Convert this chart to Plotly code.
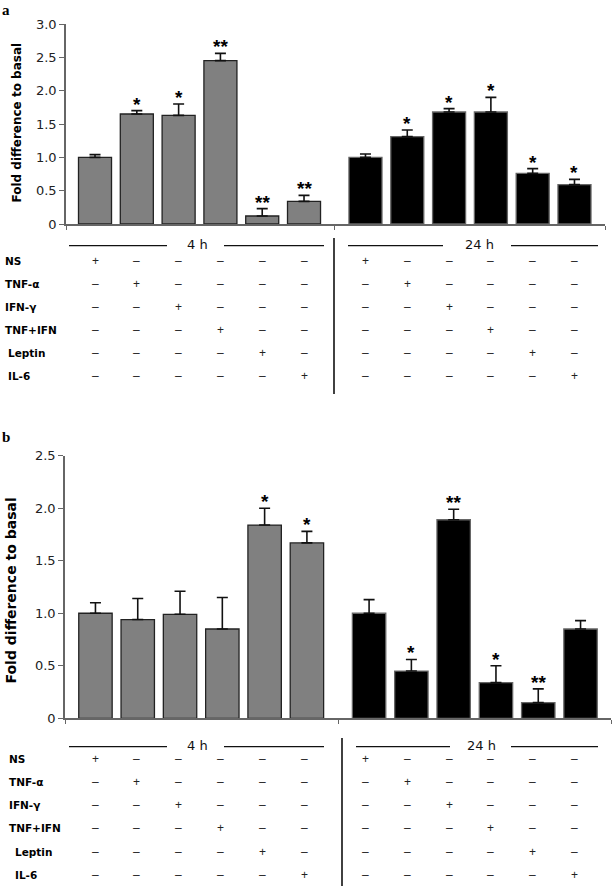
import plotly.graph_objects as go

W, H = 612, 886

# ---------------- data ----------------
row_labels = ["NS", "TNF-α", "IFN-γ", "TNF+IFN", "Leptin", "IL-6"]
time_groups = ["4 h", "24 h"]

# Panel a
a_4h = [1.00, 1.65, 1.63, 2.45, 0.12, 0.34]
a_4h_se = [0.04, 0.05, 0.17, 0.11, 0.11, 0.09]
a_4h_sig = ["", "*", "*", "**", "**", "**"]
a_24h = [1.00, 1.31, 1.68, 1.68, 0.76, 0.59]
a_24h_se = [0.05, 0.10, 0.05, 0.22, 0.07, 0.08]
a_24h_sig = ["", "*", "*", "*", "*", "*"]
a_yticks = [0, 0.5, 1.0, 1.5, 2.0, 2.5, 3.0]
a_yticklabels = ["0", "0.5", "1.0", "1.5", "2.0", "2.5", "3.0"]

# Panel b
b_4h = [1.00, 0.94, 0.99, 0.85, 1.84, 1.67]
b_4h_se = [0.10, 0.20, 0.22, 0.30, 0.16, 0.11]
b_4h_sig = ["", "", "", "", "*", "*"]
b_24h = [1.00, 0.45, 1.89, 0.34, 0.15, 0.85]
b_24h_se = [0.13, 0.11, 0.10, 0.16, 0.13, 0.08]
b_24h_sig = ["", "*", "**", "*", "**", ""]
b_yticks = [0, 0.5, 1.0, 1.5, 2.0, 2.5]
b_yticklabels = ["0", "0.5", "1.0", "1.5", "2.0", "2.5"]

# ---------------- layout helpers ----------------
GAP = 0.47
pos_4h = [i for i in range(6)]
pos_24h = [i + 6 + GAP for i in range(6)]
positions = pos_4h + pos_24h

FONT = "DejaVu Sans"
GRAY = "#808080"


def px(x):
    return x / W


def py(y):
    return 1 - y / H


fig = go.Figure()


def add_bars(vals, se, color, line_color, xa, ya, xs):
    fig.add_trace(go.Bar(
        x=xs, y=vals, width=0.79,
        marker=dict(color=color, line=dict(color=line_color, width=1.3)),
        error_y=dict(type="data", symmetric=False, array=se,
                     arrayminus=[0] * len(se), color="#111",
                     thickness=1.6, width=5.5),
        xaxis=xa, yaxis=ya, showlegend=False, hoverinfo="skip"))


add_bars(a_4h, a_4h_se, GRAY, "#222", "x", "y", pos_4h)
add_bars(a_24h, a_24h_se, "#000", "#666", "x", "y", pos_24h)
add_bars(b_4h, b_4h_se, GRAY, "#222", "x2", "y2", pos_4h)
add_bars(b_24h, b_24h_se, "#000", "#666", "x2", "y2", pos_24h)

annotations = []


def add_stars(vals, se, sig, xs, xref, yref):
    for v, e, s, x in zip(vals, se, sig, xs):
        if s:
            annotations.append(dict(
                x=x, y=v + e, xref=xref, yref=yref, text="<b>" + s + "</b>",
                showarrow=False, yanchor="bottom", yshift=-6,
                font=dict(family="Liberation Sans", size=19, color="#000")))


add_stars(a_4h, a_4h_se, a_4h_sig, pos_4h, "x", "y")
add_stars(a_24h, a_24h_se, a_24h_sig, pos_24h, "x", "y")
add_stars(b_4h, b_4h_se, b_4h_sig, pos_4h, "x2", "y2")
add_stars(b_24h, b_24h_se, b_24h_sig, pos_24h, "x2", "y2")


def axis_style(ticklen):
    return dict(showgrid=False, zeroline=False, showline=True, automargin=False,
                linecolor="#666", linewidth=1.5, ticks="outside",
                tickcolor="#666", tickwidth=1.2, ticklen=ticklen,
                tickfont=dict(family=FONT, size=13, color="#222"))


# panel a axes (plot area px: x 66-605, y 24-224)
a_xrange = [-0.694, 12.2]
a_mid = (pos_4h[-1] + pos_24h[0]) / 2
fig.update_layout(
    xaxis=dict(domain=[px(66), px(605)], range=a_xrange,
               tickvals=[a_xrange[0], a_mid, a_xrange[1]],
               ticktext=["", "", ""], anchor="y", **axis_style(4)),
    yaxis=dict(domain=[py(224), py(24)], range=[0, 3.0],
               tickvals=a_yticks, ticktext=a_yticklabels, anchor="x", **axis_style(5)),
)
# panel b axes (plot area px: x 65-611, y 455.7-718.3)
b_xrange = [-0.72, 12.19]
fig.update_layout(
    xaxis2=dict(domain=[px(65), px(611)], range=b_xrange,
                tickvals=[b_xrange[0], a_mid, b_xrange[1]],
                ticktext=["", "", ""], anchor="y2", **axis_style(4)),
    yaxis2=dict(domain=[py(718.3), py(455.7)], range=[0, 2.5],
                tickvals=b_yticks, ticktext=b_yticklabels, anchor="x2", **axis_style(5)),
)

# y titles
annotations.append(dict(x=px(16), y=py(122.5), xref="paper", yref="paper",
                        text="<b>Fold difference to basal</b>", textangle=-90,
                        showarrow=False, xanchor="center", yanchor="middle",
                        font=dict(family=FONT, size=12, color="#000")))
annotations.append(dict(x=px(10.5), y=py(591), xref="paper", yref="paper",
                        text="<b>Fold difference to basal</b>", textangle=-90,
                        showarrow=False, xanchor="center", yanchor="middle",
                        font=dict(family=FONT, size=14, color="#000")))

# panel letters
annotations.append(dict(x=0, y=1, xref="paper", yref="paper", text="<b>a</b>",
                        showarrow=False, xanchor="left", yanchor="top",
                        font=dict(family="Liberation Serif", size=15, color="#000")))
annotations.append(dict(x=0, y=py(427), xref="paper", yref="paper", text="<b>b</b>",
                        showarrow=False, xanchor="left", yanchor="top",
                        font=dict(family="Liberation Serif", size=15, color="#000")))

shapes = []


def add_table(header_y, row0_y, row_step, label_x, label_x_indent, divider_x,
              divider_y0, divider_y1, seg, hdr_x):
    for (x0, x1) in seg:
        shapes.append(dict(type="line", xref="paper", yref="paper",
                           x0=px(x0), x1=px(x1), y0=py(header_y), y1=py(header_y),
                           line=dict(color="#111", width=1.3)))
    for t, hx in zip(time_groups, hdr_x):
        annotations.append(dict(x=px(hx), y=py(header_y), xref="paper", yref="paper",
                                text=t, showarrow=False, xanchor="center", yanchor="middle",
                                yshift=1,
                                font=dict(family=FONT, size=13, color="#111")))
    shapes.append(dict(type="line", xref="paper", yref="paper",
                       x0=px(divider_x), x1=px(divider_x), y0=py(divider_y0), y1=py(divider_y1),
                       line=dict(color="#111", width=1.6)))
    for r, lab in enumerate(row_labels):
        yy = py(row0_y + r * row_step)
        lx = label_x_indent if lab in ("Leptin", "IL-6") else label_x
        annotations.append(dict(x=px(lx), y=yy, xref="paper", yref="paper",
                                text="<b>" + lab + "</b>", showarrow=False,
                                xanchor="left", yanchor="middle",
                                font=dict(family=FONT, size=10.5, color="#000")))
        for c, xc in enumerate(positions):
            plus = (c % 6) == r
            annotations.append(dict(
                x=xc, y=yy, xref="x", yref="paper",
                text="+" if plus else "–", showarrow=False,
                xanchor="center", yanchor="middle",
                font=dict(family="Liberation Sans", size=12, color="#222")))


add_table(header_y=245.7, row0_y=260.7, row_step=23.1, label_x=3, label_x_indent=6,
          divider_x=334, divider_y0=238, divider_y1=394,
          seg=[(69, 167), (224, 324), (348, 443), (511, 598)], hdr_x=[197, 479])
add_table(header_y=746.7, row0_y=758.5, row_step=23.3, label_x=7, label_x_indent=13,
          divider_x=342, divider_y0=738, divider_y1=886,
          seg=[(69, 167), (224, 324), (356, 450), (511, 598)], hdr_x=[197, 481])

fig.update_layout(
    width=W, height=H, autosize=False,
    margin=dict(l=0, r=0, t=0, b=0),
    paper_bgcolor="white", plot_bgcolor="white",
    annotations=annotations, shapes=shapes,
    bargap=0.2,
)

fig.write_html("out.html", config={"displayModeBar": False},
               post_script="document.body.style.margin='0';document.body.style.overflow='hidden';")
